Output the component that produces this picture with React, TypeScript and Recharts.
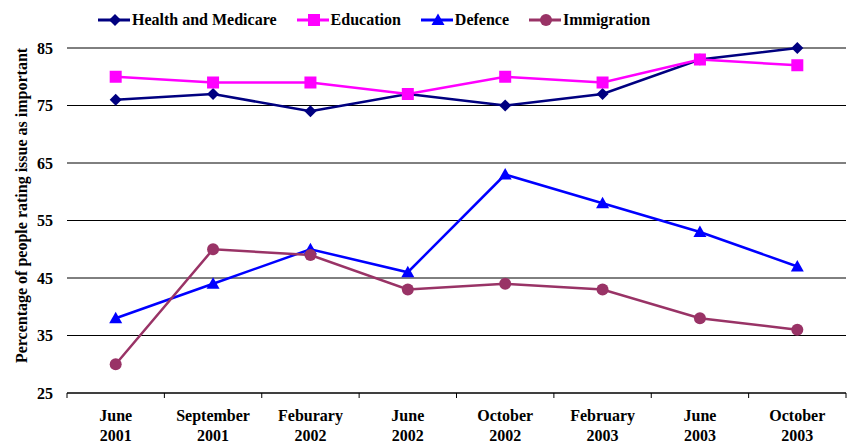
import React from 'react';
import { LineChart, Line, XAxis, YAxis, CartesianGrid, Legend } from 'recharts';

const categories = ['June|2001', 'September|2001', 'Feburary|2002', 'June|2002', 'October|2002', 'February|2003', 'June|2003', 'October|2003'];
const health = [76, 77, 74, 77, 75, 77, 83, 85];
const education = [80, 79, 79, 77, 80, 79, 83, 82];
const defence = [38, 44, 50, 46, 63, 58, 53, 47];
const immigration = [30, 50, 49, 43, 44, 43, 38, 36];
const yTicks = [25, 35, 45, 55, 65, 75, 85];

const series = [
  { key: 'health', name: 'Health and Medicare', color: '#000080', shape: 'diamond' },
  { key: 'education', name: 'Education', color: '#FF00FF', shape: 'square' },
  { key: 'defence', name: 'Defence', color: '#0000FF', shape: 'triangle' },
  { key: 'immigration', name: 'Immigration', color: '#993366', shape: 'circle' },
];

const data = categories.map((c, i) => ({
  cat: c,
  health: health[i],
  education: education[i],
  defence: defence[i],
  immigration: immigration[i],
}));

const FONT = 'Liberation Serif';
const W = 852;
const H = 443;
const M = { top: 18, right: 6, left: 0, bottom: 0 };
const Y_W = 67;
const PLOT_W = W - M.left - M.right - Y_W;
const HALF = PLOT_W / categories.length / 2;

function Marker({ cx, cy, shape, color }: any) {
  if (cx == null || cy == null) return null;
  if (shape === 'diamond') {
    const s = 6;
    return <polygon points={`${cx},${cy - s} ${cx + s},${cy} ${cx},${cy + s} ${cx - s},${cy}`} fill={color} />;
  }
  if (shape === 'square') {
    const s = 6;
    return <rect x={cx - s} y={cy - s} width={2 * s} height={2 * s} fill={color} />;
  }
  if (shape === 'triangle') {
    const s = 6.5;
    return <polygon points={`${cx},${cy - s} ${cx + s},${cy + s * 0.75} ${cx - s},${cy + s * 0.75}`} fill={color} />;
  }
  return <circle cx={cx} cy={cy} r={6} fill={color} />;
}

function XTick(props: any) {
  const { x, y, payload, index } = props;
  const [l1, l2] = String(payload.value).split('|');
  return (
    <g>
      <line x1={x - HALF} y1={y - 8} x2={x - HALF} y2={y - 3} stroke="#000" strokeWidth={1} />
      {index === categories.length - 1 && (
        <line x1={x + HALF} y1={y - 8} x2={x + HALF} y2={y - 3} stroke="#000" strokeWidth={1} />
      )}
      <text x={x} y={y} textAnchor="middle" style={{ fontFamily: FONT, fontWeight: 'bold', fontSize: 16 }} fill="#000">
        <tspan x={x} dy={20}>{l1}</tspan>
        <tspan x={x} dy={20}>{l2}</tspan>
      </text>
    </g>
  );
}

function LegendContent() {
  return (
    <div style={{ display: 'flex', alignItems: 'center', paddingLeft: 98, height: 30, fontFamily: FONT, fontWeight: 'bold', fontSize: 16 }}>
      {series.map((s) => (
        <div key={s.key} style={{ display: 'flex', alignItems: 'center', marginRight: 20 }}>
          <svg width={32} height={14} style={{ marginRight: 2 }}>
            <line x1={0} y1={7} x2={32} y2={7} stroke={s.color} strokeWidth={3} />
            <Marker cx={17} cy={7} shape={s.shape} color={s.color} />
          </svg>
          <span>{s.name}</span>
        </div>
      ))}
    </div>
  );
}

export default function App() {
  return (
    <div style={{ position: 'absolute', left: 0, top: 0, background: '#fff' }}>
      <LineChart width={W} height={H} data={data} margin={M}>
        <CartesianGrid horizontal vertical={false} stroke="#000" strokeWidth={1} />
        <XAxis
          dataKey="cat"
          height={50}
          tick={<XTick />}
          tickLine={false}
          axisLine={{ stroke: '#000', strokeWidth: 1 }}
          interval={0}
          padding={{ left: HALF, right: HALF }}
        />
        <YAxis
          width={Y_W}
          domain={[25, 85]}
          ticks={yTicks}
          axisLine={false}
          tickLine={false}
          tickSize={6}
          tickMargin={8}
          tick={{ fontFamily: FONT, fontWeight: 'bold', fontSize: 16, fill: '#000' }}
          label={{
            value: 'Percentage of people rating issue as important',
            angle: -90,
            position: 'insideLeft',
            dx: 16,
            dy: -15,
            style: { textAnchor: 'middle', fontFamily: FONT, fontWeight: 'bold', fontSize: 16, fill: '#000' },
          }}
        />
        <Legend verticalAlign="top" align="left" content={<LegendContent />} wrapperStyle={{ top: 5, left: 0 }} />
        {series.map((s) => (
          <Line
            key={s.key}
            dataKey={s.key}
            name={s.name}
            stroke={s.color}
            strokeWidth={2.5}
            isAnimationActive={false}
            dot={(p: any) => <Marker key={`${s.key}-${p.index}`} cx={p.cx} cy={p.cy} shape={s.shape} color={s.color} />}
            activeDot={false}
          />
        ))}
      </LineChart>
    </div>
  );
}
